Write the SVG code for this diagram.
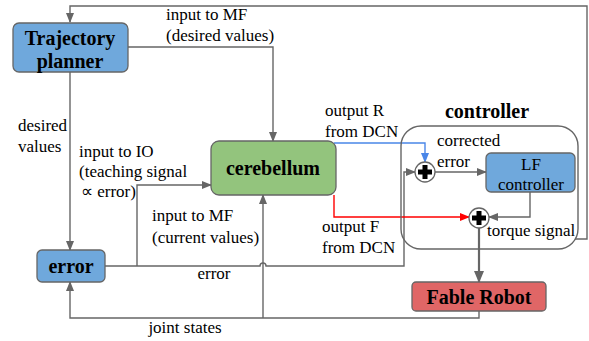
<svg xmlns="http://www.w3.org/2000/svg" width="589" height="341" viewBox="0 0 589 341">
<style>
.c{fill:none;stroke:#666;stroke-width:1.4}
.t{font-size:17px;fill:#000}
.b{font-size:20px;font-weight:bold;fill:#000;text-anchor:middle}
.box{stroke:#666;stroke-width:1.3}
</style>
<defs>
<marker id="a" markerWidth="10" markerHeight="8" refX="9" refY="4" orient="auto" markerUnits="userSpaceOnUse"><path d="M0,0L10,4L0,8z" fill="#666"/></marker>
<marker id="ab" markerWidth="10" markerHeight="8" refX="9" refY="4" orient="auto" markerUnits="userSpaceOnUse"><path d="M0,0L10,4L0,8z" fill="#4a86e8"/></marker>
<marker id="ar" markerWidth="10" markerHeight="8" refX="9" refY="4" orient="auto" markerUnits="userSpaceOnUse"><path d="M0,0L10,4L0,8z" fill="#ff0000"/></marker>
<marker id="ak" markerWidth="12" markerHeight="10" refX="11" refY="5" orient="auto" markerUnits="userSpaceOnUse"><path d="M0,0L12,5L0,10z" fill="#666"/></marker>
</defs>
<rect width="589" height="341" fill="#fff"/>
<g id="connectors">
<path class="c" d="M575,239H587V6H70V22" marker-end="url(#a)"/>
<path class="c" d="M128,47H273V141" marker-end="url(#a)"/>
<path class="c" d="M70,72V250" marker-end="url(#a)"/>
<path class="c" d="M105,266H260a3,3 0 0 1 6,0H404V172H415" marker-end="url(#a)"/>
<path class="c" d="M137,266V185H211" marker-end="url(#a)"/>
<path class="c" d="M479,311V318H70V282" marker-end="url(#a)"/>
<path class="c" d="M263,318V195" marker-end="url(#a)"/>
<path fill="none" stroke="#4a86e8" stroke-width="1.4" d="M334,143H425V162" marker-end="url(#ab)"/>
<path fill="none" stroke="#ff0000" stroke-width="1.4" d="M334,195V217H469" marker-end="url(#ar)"/>
<path class="c" d="M435,172H486" marker-end="url(#a)"/>
<path class="c" d="M530,192V217H489" marker-end="url(#a)"/>
<path fill="none" stroke="#666" stroke-width="2.2" d="M479,228V282" marker-end="url(#ak)"/>
</g>
<g id="controller" font-family="Liberation Serif, serif">
<rect x="401" y="126" width="177" height="123" rx="20" fill="none" stroke="#666" stroke-width="1.4"/>
<text class="b" x="487" y="118">controller</text>
</g>
<g id="trajectory-planner" font-family="Liberation Serif, serif">
<rect class="box" x="13" y="23" width="115" height="49" rx="6" fill="#6fa8dc"/>
<text class="b" x="70" y="45">Trajectory</text>
<text class="b" x="70" y="68">planner</text>
</g>
<g id="cerebellum" font-family="Liberation Serif, serif">
<rect class="box" x="211" y="141" width="125" height="54" rx="8" fill="#93c47d"/>
<text class="b" x="273" y="175">cerebellum</text>
</g>
<g id="error" font-family="Liberation Serif, serif">
<rect class="box" x="37" y="250" width="68" height="32" rx="5" fill="#6fa8dc"/>
<text class="b" x="71" y="273">error</text>
</g>
<g id="lf-controller" font-family="Liberation Serif, serif">
<rect class="box" x="486" y="153" width="89" height="39" rx="5" fill="#6fa8dc"/>
<text class="t" x="531" y="170" text-anchor="middle">LF</text>
<text class="t" x="531" y="190" text-anchor="middle">controller</text>
</g>
<g id="fable-robot" font-family="Liberation Serif, serif">
<rect class="box" x="412" y="282" width="134" height="29" rx="4" fill="#e06666"/>
<text class="b" x="479" y="304">Fable Robot</text>
</g>
<g id="sum1">
<circle cx="425" cy="172" r="10" fill="#fff" stroke="#666" stroke-width="1.3"/>
<path d="M422.5,165h5v4.5h4.5v5h-4.5v4.5h-5v-4.5h-4.5v-5h4.5z" fill="#000"/>
</g>
<g id="sum2">
<circle cx="479" cy="218" r="10" fill="#fff" stroke="#666" stroke-width="1.3"/>
<path d="M476.5,211h5v4.5h4.5v5h-4.5v4.5h-5v-4.5h-4.5v-5h4.5z" fill="#000"/>
</g>
<g id="labels" font-family="Liberation Serif, serif">
<text class="t" x="166" y="20">input to MF</text>
<text class="t" x="166" y="41">(desired values)</text>
<text class="t" x="18" y="131">desired</text>
<text class="t" x="18" y="152">values</text>
<text class="t" x="79" y="157">input to IO</text>
<text class="t" x="79" y="177">(teaching signal</text>
<text class="t" x="81" y="197">∝ error)</text>
<text class="t" x="152" y="221">input to MF</text>
<text class="t" x="152" y="243">(current values)</text>
<text class="t" x="214" y="279" text-anchor="middle">error</text>
<text class="t" x="185" y="333" text-anchor="middle">joint states</text>
<text class="t" x="325" y="116">output R</text>
<text class="t" x="325" y="137">from DCN</text>
<text class="t" x="322" y="232">output F</text>
<text class="t" x="322" y="253">from DCN</text>
<text class="t" x="437" y="146">corrected</text>
<text class="t" x="437" y="167">error</text>
<text class="t" x="487" y="236">torque signal</text>
</g>
</svg>
